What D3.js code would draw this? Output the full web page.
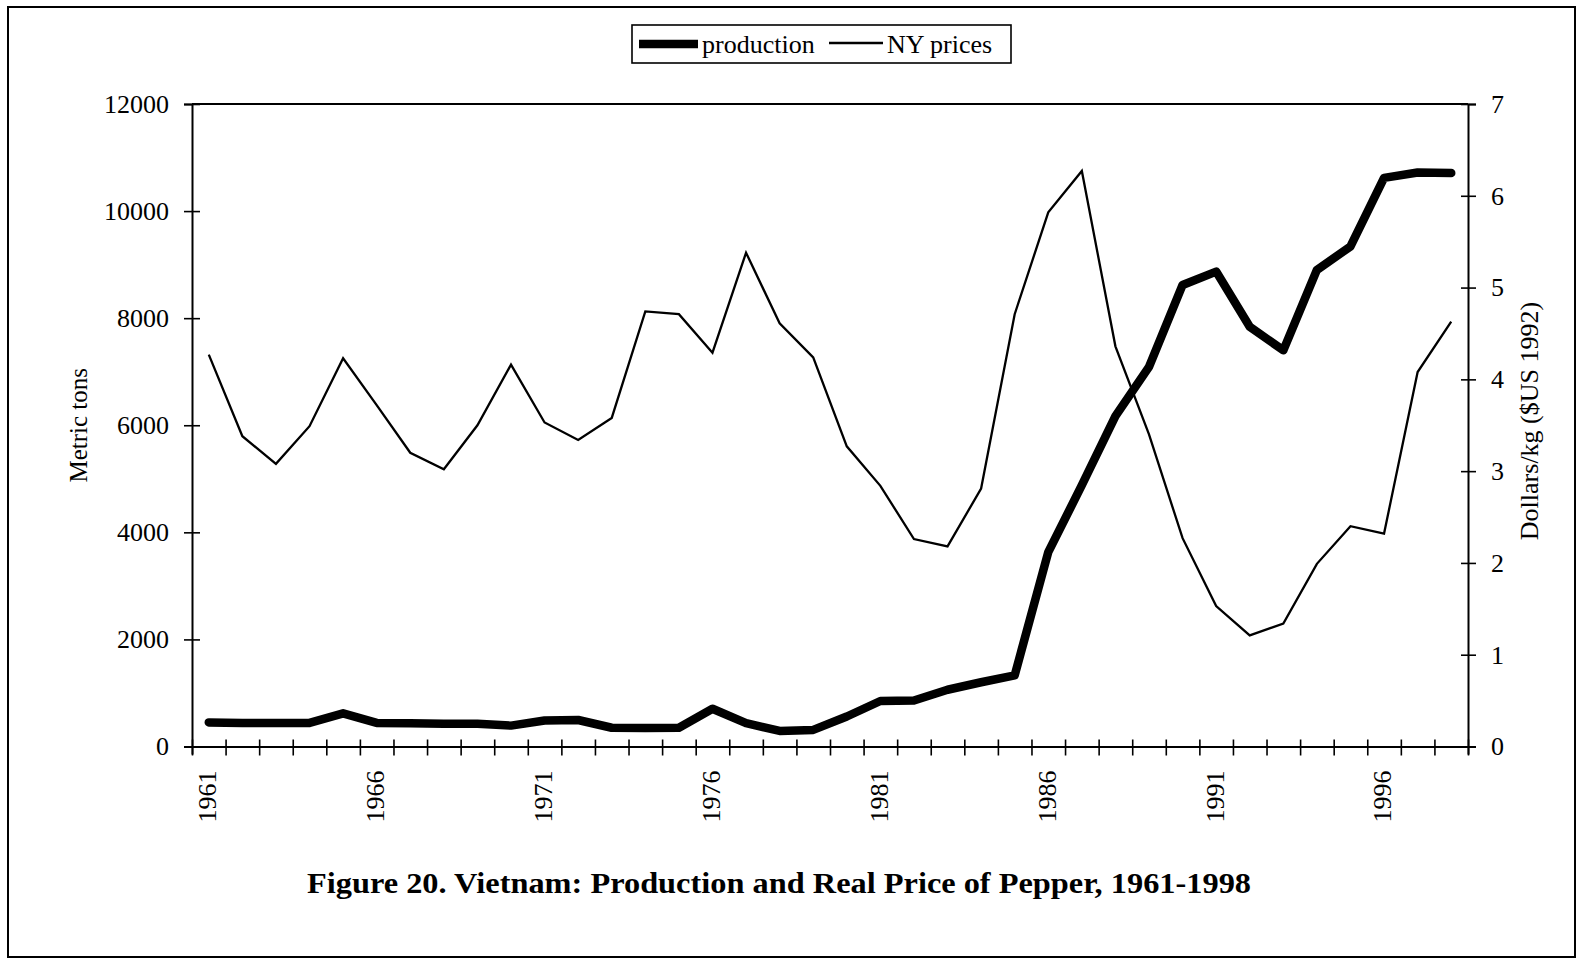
<!DOCTYPE html>
<html>
<head>
<meta charset="utf-8">
<script src="https://cdn.jsdelivr.net/npm/d3@7"></script>
<style>
  html, body { margin: 0; padding: 0; background: #fff; }
  svg { display: block; }
  text { font-family: "Liberation Serif", "Times New Roman", serif; fill: #000; }
</style>
</head>
<body>
<svg id="chart" width="1580" height="960"></svg>
<script>
// ---- data ----
const years = [1961,1962,1963,1964,1965,1966,1967,1968,1969,1970,
               1971,1972,1973,1974,1975,1976,1977,1978,1979,1980,
               1981,1982,1983,1984,1985,1986,1987,1988,1989,1990,
               1991,1992,1993,1994,1995,1996,1997,1998];
const production = [450,440,440,440,620,440,435,425,425,390,
                    485,495,350,345,350,705,435,290,310,560,
                    850,860,1060,1200,1330,3630,4880,6170,7090,8620,
                    8870,7840,7400,8900,9340,10620,10720,10710];
const nyPrices = [4.27,3.38,3.08,3.49,4.23,3.72,3.20,3.02,3.50,4.16,
                  3.53,3.34,3.58,4.74,4.71,4.29,5.38,4.61,4.24,3.27,
                  2.84,2.26,2.18,2.81,4.71,5.82,6.27,4.36,3.40,2.27,
                  1.53,1.21,1.34,1.99,2.40,2.32,4.08,4.63];
const yearLabels = [1961,1966,1971,1976,1981,1986,1991,1996];
const leftTicks = [0,2000,4000,6000,8000,10000,12000];
const rightTicks = [0,1,2,3,4,5,6,7];
const seriesNames = ["production", "NY prices"];
const titleText = "Figure 20. Vietnam: Production and Real Price of Pepper, 1961-1998";
const leftTitle = "Metric tons";
const rightTitle = "Dollars/kg ($US 1992)";

// ---- layout ----
const svg = d3.select("#chart");
const L = 192, R = 1468, T = 104, B = 746.5;

const x = d3.scaleBand().domain(years).range([L, R]).padding(0);
const xEdge = d3.scaleLinear().domain([0, years.length]).range([L, R]);
const yL = d3.scaleLinear().domain([0, 12000]).range([B, T]);
const yR = d3.scaleLinear().domain([0, 7]).range([B, T]);
const cx = d => x(d) + x.bandwidth() / 2;

// outer frame
svg.append("rect").attr("x", 8).attr("y", 7).attr("width", 1567).attr("height", 950)
  .attr("fill", "none").attr("stroke", "#000").attr("stroke-width", 2);

// plot box top line
svg.append("line").attr("x1", L).attr("x2", R).attr("y1", T).attr("y2", T)
  .attr("stroke", "#000").attr("stroke-width", 2);

// left axis
const gL = svg.append("g").attr("transform", `translate(${L},0)`)
  .call(d3.axisLeft(yL).tickValues(leftTicks).tickFormat(d3.format("d")).tickSize(8).tickPadding(15));
// right axis
const gR = svg.append("g").attr("transform", `translate(${R},0)`)
  .call(d3.axisRight(yR).tickValues(rightTicks).tickFormat(d3.format("d")).tickSize(8).tickPadding(15));
// bottom axis: boundary ticks
const gB = svg.append("g").attr("transform", `translate(0,${B})`)
  .call(d3.axisBottom(xEdge).tickValues(d3.range(years.length + 1)).tickFormat("").tickSize(8));
// bottom axis: labels at category centres
const gBL = svg.append("g").attr("transform", `translate(0,${B})`)
  .call(d3.axisBottom(x).tickValues(yearLabels).tickSize(0));
gBL.select(".domain").remove();
gBL.selectAll(".tick text")
  .attr("transform", "rotate(-90)")
  .attr("x", -24).attr("y", -2).attr("dy", "0.36em")
  .style("text-anchor", "end");

[gL, gR, gB].forEach(g => {
  g.select(".domain").attr("stroke", "#000").attr("stroke-width", 2);
});
gL.selectAll(".tick line").attr("x1", 8).attr("x2", -8).attr("stroke-width", 1.6);
gR.selectAll(".tick line").attr("x1", -7).attr("x2", 8).attr("stroke-width", 1.6);
gB.selectAll(".tick line").attr("y1", -7).attr("y2", 9).attr("stroke-width", 1.6);
svg.selectAll(".tick text").style("font-family", "'Liberation Serif', 'Times New Roman', serif")
  .style("font-size", "26px").attr("fill", "#000");

// axis titles
svg.append("text").attr("transform", `translate(87,${(T + B) / 2}) rotate(-90)`)
  .attr("text-anchor", "middle").style("font-size", "25px").text(leftTitle);
svg.append("text").attr("transform", `translate(1538,421) rotate(-90)`)
  .attr("text-anchor", "middle").style("font-size", "26px").text(rightTitle);

// lines
const lineProd = d3.line().x((d, i) => cx(years[i])).y(d => yL(d));
const linePrice = d3.line().x((d, i) => cx(years[i])).y(d => yR(d));

svg.append("path").datum(nyPrices).attr("d", linePrice)
  .attr("fill", "none").attr("stroke", "#000").attr("stroke-width", 2.3)
  .attr("stroke-linejoin", "miter");
svg.append("path").datum(production).attr("d", lineProd)
  .attr("fill", "none").attr("stroke", "#000").attr("stroke-width", 8.5)
  .attr("stroke-linejoin", "round").attr("stroke-linecap", "round");

// legend
const lg = svg.append("g");
lg.append("rect").attr("x", 632).attr("y", 25).attr("width", 379).attr("height", 38)
  .attr("fill", "#fff").attr("stroke", "#000").attr("stroke-width", 1.6);
lg.append("line").attr("x1", 639).attr("x2", 698).attr("y1", 44).attr("y2", 44)
  .attr("stroke", "#000").attr("stroke-width", 8.5);
lg.append("text").attr("x", 702).attr("y", 53).style("font-size", "26px").text(seriesNames[0]);
lg.append("line").attr("x1", 829).attr("x2", 883).attr("y1", 43).attr("y2", 43)
  .attr("stroke", "#000").attr("stroke-width", 2.3);
lg.append("text").attr("x", 887).attr("y", 53).style("font-size", "26px").text(seriesNames[1]);

// title
svg.append("text").attr("x", 779).attr("y", 893).attr("text-anchor", "middle")
  .style("font-size", "30px").style("font-weight", "bold")
  .attr("textLength", 944).attr("lengthAdjust", "spacingAndGlyphs")
  .text(titleText);
</script>
</body>
</html>
